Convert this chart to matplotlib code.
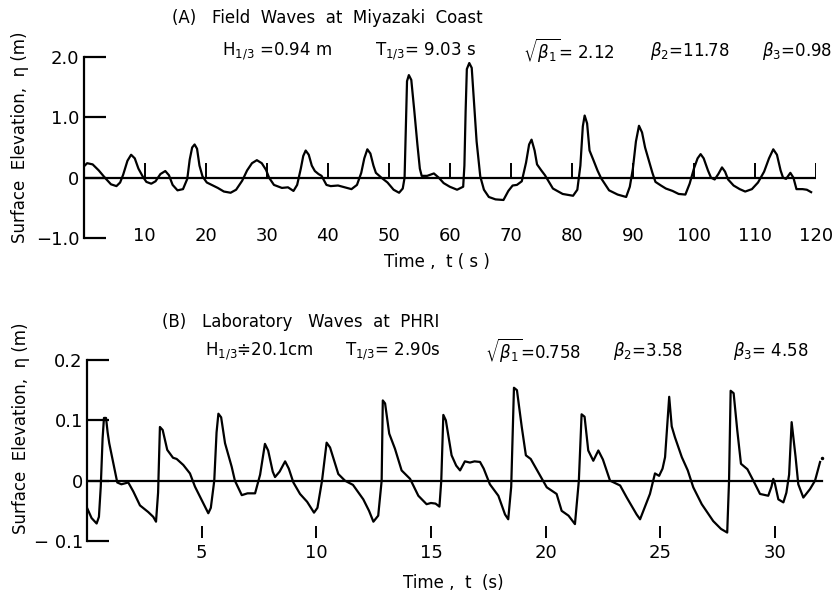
import numpy as np
import matplotlib
matplotlib.use("Agg")
import matplotlib.pyplot as plt

# --- data ---
# (A) field waves, Miyazaki coast: time (s), surface elevation (m)
t_a = [0.0, 0.6, 1.5, 2.5, 3.5, 4.5, 5.4, 6.0, 6.5, 7.2, 7.8, 8.4, 9.0, 9.7, 10.3, 11.1,
       11.8, 12.6, 13.4, 14.0, 14.6, 15.4, 16.3, 17.0, 17.4, 17.8, 18.2, 18.6, 19.0, 19.5,
       20.2, 20.8, 22.0, 23.0, 24.1, 25.0, 26.0, 26.8, 27.6, 28.4, 29.2, 29.9, 30.4, 31.2,
       32.5, 33.5, 34.4, 35.0, 35.6, 36.0, 36.4, 36.9, 37.4, 37.9, 38.5, 39.0, 39.8, 40.5,
       41.7, 42.8, 43.9, 44.8, 45.5, 46.0, 46.5, 47.0, 47.5, 47.9, 48.8, 49.8, 50.8, 51.7,
       52.3, 52.6, 52.8, 53.0, 53.3, 53.7, 54.2, 54.7, 55.1, 55.4, 56.3, 57.4, 58.2, 59.0,
       60.0, 61.2, 62.2, 62.4, 62.6, 62.8, 63.2, 63.6, 64.0, 64.4, 65.0, 65.6, 66.4, 67.5,
       68.8, 69.6, 70.3, 71.0, 71.8, 72.5, 73.0, 73.4, 73.9, 74.3, 75.0, 75.6, 76.9, 78.5,
       80.2, 80.9, 81.4, 81.8, 82.1, 82.5, 82.9, 83.5, 84.2, 84.8, 86.1, 87.5, 88.9, 89.5,
       90.0, 90.5, 91.0, 91.5, 92.0, 92.6, 93.2, 93.7, 94.6, 95.4, 96.5, 97.5, 98.6, 99.3,
       100.0, 100.6, 101.1, 101.6, 102.3, 102.8, 103.4, 104.0, 104.6, 105.1, 105.6, 106.5,
       107.5, 108.4, 109.5, 110.5, 111.5, 112.3, 113.0, 113.6, 114.2, 114.6, 115.1, 115.8,
       116.3, 116.8, 117.8, 118.5, 119.2]
eta_a = [0.18, 0.24, 0.22, 0.12, 0.0, -0.11, -0.14, -0.08, 0.05, 0.28, 0.38, 0.32, 0.15, 0.02,
         -0.07, -0.10, -0.06, 0.06, 0.11, 0.04, -0.12, -0.21, -0.19, -0.02, 0.30, 0.50, 0.55,
         0.48, 0.20, 0.02, -0.08, -0.11, -0.17, -0.23, -0.25, -0.20, -0.05, 0.12, 0.24, 0.29,
         0.24, 0.13, 0.0, -0.12, -0.17, -0.16, -0.22, -0.12, 0.15, 0.36, 0.45, 0.38, 0.20,
         0.11, 0.06, 0.03, -0.12, -0.14, -0.13, -0.16, -0.19, -0.12, 0.08, 0.32, 0.47, 0.40,
         0.20, 0.08, 0.0, -0.08, -0.20, -0.25, -0.18, 0.0, 0.8, 1.6, 1.70, 1.62, 1.1, 0.55,
         0.15, 0.03, 0.03, 0.07, 0.0, -0.09, -0.15, -0.20, -0.15, 0.2, 1.1, 1.80, 1.90, 1.82,
         1.2, 0.6, 0.02, -0.20, -0.32, -0.36, -0.37, -0.22, -0.13, -0.12, -0.06, 0.25, 0.55,
         0.63, 0.45, 0.22, 0.12, 0.04, -0.18, -0.27, -0.30, -0.20, 0.20, 0.85, 1.03, 0.90,
         0.45, 0.30, 0.12, -0.01, -0.21, -0.28, -0.32, -0.15, 0.15, 0.60, 0.86, 0.75, 0.50,
         0.29, 0.08, -0.07, -0.13, -0.18, -0.22, -0.27, -0.28, -0.10, 0.15, 0.32, 0.39, 0.32,
         0.12, 0.0, -0.03, 0.06, 0.17, 0.10, -0.03, -0.13, -0.19, -0.23, -0.19, -0.08, 0.10,
         0.32, 0.47, 0.38, 0.12, 0.0, -0.02, 0.08, 0.0, -0.19, -0.19, -0.20, -0.24]

# (B) laboratory waves, PHRI: time (s), surface elevation (m)
t_b = [0.0, 0.2, 0.42, 0.52, 0.6, 0.68, 0.74, 0.83, 0.9, 0.97, 1.15, 1.32, 1.5, 1.8, 2.02,
       2.31, 2.67, 2.89, 3.01, 3.1, 3.15, 3.18, 3.3, 3.5, 3.75, 3.91, 4.2, 4.49, 4.71, 5.0,
       5.29, 5.4, 5.55, 5.65, 5.73, 5.85, 6.02, 6.31, 6.45, 6.75, 7.0, 7.33, 7.55, 7.76, 7.9,
       8.1, 8.2, 8.4, 8.64, 8.8, 9.0, 9.29, 9.6, 9.9, 10.05, 10.25, 10.45, 10.6, 10.96, 11.25,
       11.6, 12.05, 12.3, 12.49, 12.7, 12.85, 12.9, 13.0, 13.18, 13.43, 13.72, 14.09, 14.45,
       14.81, 15.0, 15.2, 15.37, 15.45, 15.54, 15.65, 15.9, 16.1, 16.27, 16.48, 16.7, 16.9,
       17.14, 17.3, 17.57, 17.94, 18.23, 18.37, 18.5, 18.62, 18.75, 18.96, 19.14, 19.35,
       19.68, 20.05, 20.48, 20.7, 21.0, 21.28, 21.45, 21.57, 21.7, 21.86, 22.08, 22.3, 22.5,
       22.81, 23.25, 23.54, 23.97, 24.12, 24.55, 24.77, 24.95, 25.1, 25.21, 25.39, 25.5,
       25.64, 25.94, 26.2, 26.44, 26.81, 27.31, 27.65, 27.92, 28.0, 28.07, 28.2, 28.36,
       28.52, 28.8, 29.06, 29.35, 29.71, 29.85, 29.93, 30.0, 30.15, 30.37, 30.5, 30.62,
       30.73, 30.9, 31.02, 31.24, 31.53, 31.75, 31.97]
eta_b = [-0.045, -0.062, -0.071, -0.06, -0.01, 0.07, 0.104, 0.104, 0.08, 0.062, 0.029, -0.003,
         -0.006, -0.003, -0.018, -0.041, -0.052, -0.060, -0.068, -0.02, 0.05, 0.089, 0.084,
         0.051, 0.038, 0.036, 0.026, 0.012, -0.01, -0.032, -0.054, -0.045, 0.0, 0.08, 0.111,
         0.105, 0.062, 0.023, 0.0, -0.024, -0.021, -0.021, 0.01, 0.061, 0.05, 0.015, 0.006,
         0.015, 0.032, 0.02, -0.003, -0.022, -0.035, -0.053, -0.045, 0.0, 0.063, 0.055, 0.011,
         0.0, -0.007, -0.031, -0.05, -0.068, -0.058, 0.0, 0.133, 0.128, 0.078, 0.053, 0.017,
         0.003, -0.025, -0.039, -0.037, -0.038, -0.043, 0.0, 0.109, 0.1, 0.042, 0.025, 0.017,
         0.032, 0.03, 0.032, 0.031, 0.02, -0.006, -0.025, -0.056, -0.064, -0.01, 0.154, 0.15,
         0.089, 0.042, 0.036, 0.014, -0.011, -0.022, -0.05, -0.058, -0.072, 0.0, 0.11, 0.106,
         0.05, 0.033, 0.05, 0.035, 0.0, -0.008, -0.028, -0.056, -0.064, -0.022, 0.012, 0.008,
         0.02, 0.039, 0.139, 0.09, 0.072, 0.039, 0.017, -0.011, -0.039, -0.067, -0.08, -0.086,
         0.0, 0.149, 0.145, 0.083, 0.028, 0.019, 0.0, -0.022, -0.025, -0.01, 0.003, -0.005,
         -0.031, -0.036, -0.02, 0.01, 0.097, 0.04, -0.006, -0.028, -0.014, 0.0, 0.031]

ticks_a = [10, 20, 30, 40, 50, 60, 70, 80, 90, 100, 110, 120]
yticks_a = [-1.0, 0.0, 1.0, 2.0]
ylabels_a = ["−1.0", "0", "1.0", "2.0"]
ticks_b = [5, 10, 15, 20, 25, 30]
yticks_b = [-0.1, 0.0, 0.1, 0.2]
ylabels_b = ["− 0.1", "0", "0.1", "0.2"]

title_a = "(A)   Field  Waves  at  Miyazaki  Coast"
stats_a = [r"$\mathregular{H_{1/3}}$ =0.94 m", r"$\mathregular{T_{1/3}}$= 9.03 s",
           r"$\sqrt{\beta_1}$= 2.12", r"$\beta_2$=11.78", r"$\beta_3$=0.98"]
title_b = "(B)   Laboratory   Waves  at  PHRI"
stats_b = [r"$\mathregular{H_{1/3}}$≑20.1cm", r"$\mathregular{T_{1/3}}$= 2.90s",
           r"$\sqrt{\beta_1}$=0.758", r"$\beta_2$=3.58", r"$\beta_3$= 4.58"]

W, H = 838, 597
fig = plt.figure(figsize=(W / 100, H / 100), dpi=100)
fs = 12


def px(x, y):
    return x / W, 1 - y / H


def style_axis(ax, yt, ylab):
    for s in ["top", "right", "bottom"]:
        ax.spines[s].set_visible(False)
    ax.spines["left"].set_linewidth(1.6)
    ax.set_yticks(yt)
    ax.set_yticklabels(ylab, fontsize=13)
    ax.tick_params(axis="y", direction="in", length=16, width=1.6, pad=3)
    ax.set_xticks([])
    ax.patch.set_visible(False)


# ---- panel A ----
axA = fig.add_axes([83.5 / W, 1 - 238 / H, 732.5 / W, 181 / H])
axA.set_xlim(0, 120)
axA.set_ylim(-1.0, 2.0)
style_axis(axA, yticks_a, ylabels_a)
axA.axhline(0, xmin=0, xmax=1, color="black", lw=1.6)
axA.vlines(ticks_a, 0, 0.25, color="black", lw=1.4)
axA.plot(t_a, eta_a, color="black", lw=1.6)
for t in ticks_a:
    axA.text(t, -0.97, str(t), ha="center", va="center", fontsize=13)

fig.text(*px(20, 137), "Surface  Elevation,  η (m)", rotation=90, ha="center",
         va="center", fontsize=fs)
fig.text(*px(172, 18), title_a, ha="left", va="center", fontsize=fs)
for x, s in zip([222, 375, 523, 650, 762], stats_a):
    fig.text(*px(x, 51), s, ha="left", va="center", fontsize=fs)
fig.text(*px(437, 262), "Time ,  t ( s )", ha="center", va="center", fontsize=fs)

# ---- panel B ----
axB = fig.add_axes([87 / W, 1 - 541 / H, 32.5 * 22.93 / W, 181 / H])
axB.set_xlim(0, 32.5)
axB.set_ylim(-0.1, 0.2)
style_axis(axB, yticks_b, ylabels_b)
axB.plot([0, t_b[-1] + 0.1], [0, 0], color="black", lw=1.6)
axB.vlines(ticks_b, -0.095, -0.075, color="black", lw=1.4)
axB.plot(t_b, eta_b, color="black", lw=1.6)
axB.plot(t_b[-1] + 0.1, eta_b[-1] + 0.006, marker="o", ms=1.5, color="black")
for t in ticks_b:
    axB.text(t, -0.12, str(t), ha="center", va="center", fontsize=13, clip_on=False)

fig.text(*px(21, 428), "Surface  Elevation,  η (m)", rotation=90, ha="center",
         va="center", fontsize=fs)
fig.text(*px(162, 322), title_b, ha="left", va="center", fontsize=fs)
for x, s in zip([205, 345, 485, 613, 733], stats_b):
    fig.text(*px(x, 351), s, ha="left", va="center", fontsize=fs)
fig.text(*px(453, 583), "Time ,  t  (s)", ha="center", va="center", fontsize=fs)

fig.savefig("out.png", dpi=100)
